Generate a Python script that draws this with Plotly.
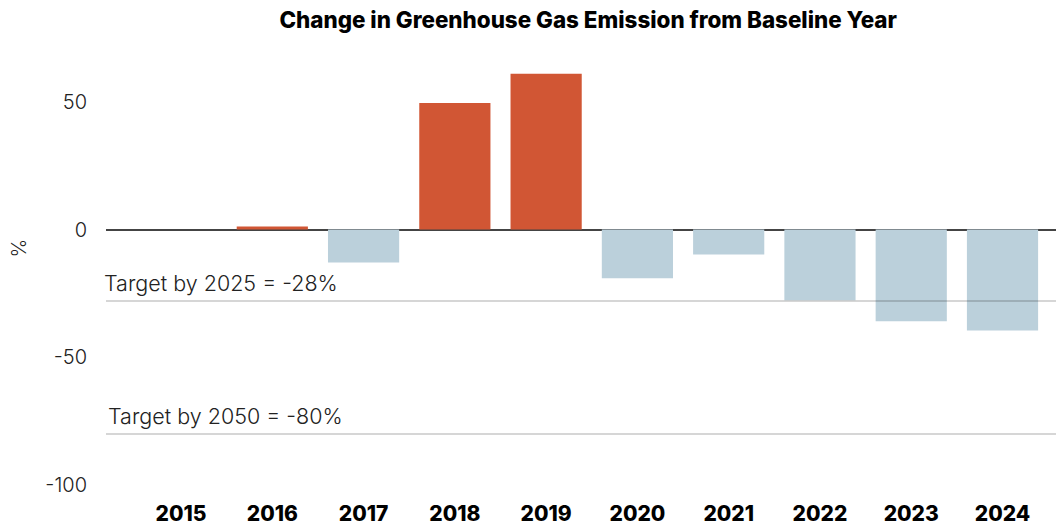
import plotly.graph_objects as go

years = ["2015", "2016", "2017", "2018", "2019", "2020", "2021", "2022", "2023", "2024"]
change_pct = [0, 1.2, -12.9, 49.6, 61.0, -19.1, -9.8, -27.7, -35.9, -39.5]
targets = [-28, -80]
target_labels = ["Target by 2025 = -28%", "Target by 2050 = -80%"]
tick_vals = [50, 0, -50, -100]
tick_text = ["50", "0", "-50", "-100"]

ORANGE = "#D15634"
BLUE = "#BBD0DB"
colors = [ORANGE if v > 0 else BLUE for v in change_pct]

fig = go.Figure()
fig.add_trace(go.Bar(x=years, y=change_pct, marker=dict(color=colors, line=dict(width=0)),
                     hoverinfo="x+y"))

for t in targets:
    fig.add_shape(type="line", xref="paper", x0=0, x1=1, yref="y", y0=t, y1=t,
                  line=dict(color="rgba(0,0,0,0.16)", width=2), layer="above")
fig.add_annotation(xref="paper", x=-0.004, yref="y", y=targets[0], yshift=3,
                   xanchor="left", yanchor="bottom", showarrow=False,
                   text=target_labels[0], font=dict(size=21.5, color="#222", family="Inter", weight=300))
fig.add_annotation(xref="paper", x=0.0, yref="y", y=targets[1], yshift=3,
                   xanchor="left", yanchor="bottom", showarrow=False,
                   text=target_labels[1], font=dict(size=21.5, color="#222", family="Inter", weight=300))
fig.add_annotation(xref="paper", x=-0.092, xanchor="center", yref="paper", y=0.572, yanchor="middle",
                   showarrow=False, textangle=-90, text="%",
                   font=dict(size=20, color="#222", family="Inter", weight=300))

fig.update_layout(
    width=1056, height=529,
    margin=dict(l=106, r=0, t=60, b=30),
    paper_bgcolor="white", plot_bgcolor="white",
    font=dict(family="Inter", color="#222"),
    title=dict(text="Change in Greenhouse Gas Emission from Baseline Year",
               x=0.557, xanchor="center", y=0.962, yanchor="middle",
               font=dict(size=22.4, color="#000", family="Inter", weight=800)),
    bargap=0.22,
    showlegend=False,
    xaxis=dict(type="category", range=[-0.822, 9.586], showgrid=False, showline=False,
               ticks="", tickfont=dict(size=21, color="#000", family="Inter", weight=800)),
    yaxis=dict(range=[-105.5, 66.4], tickvals=tick_vals, ticktext=tick_text,
               showgrid=False, showline=False,
               zeroline=True, zerolinecolor="#444", zerolinewidth=2,
               ticks="", ticklabelstandoff=18,
               tickfont=dict(size=20, color="#222", family="Inter", weight=300)),
)

fig.write_html("out.html")
